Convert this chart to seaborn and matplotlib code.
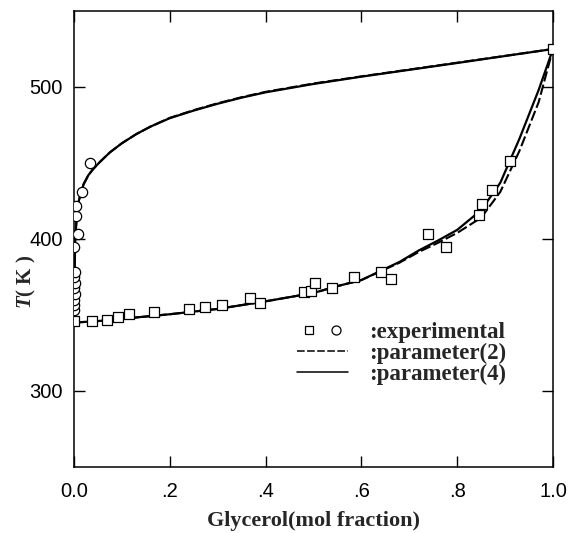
import matplotlib
matplotlib.use("Agg")
import matplotlib.pyplot as plt
import seaborn as sns
from matplotlib.lines import Line2D
from matplotlib.legend_handler import HandlerTuple
from matplotlib.font_manager import FontProperties

# ---------------- data ----------------
# vapour (upper) curve, both parameter sets nearly identical
vap_x = [0.0, 0.001, 0.003, 0.006, 0.01, 0.015, 0.02, 0.03, 0.04, 0.055,
         0.075, 0.1, 0.13, 0.16, 0.2, 0.25, 0.3, 0.35, 0.4, 0.5, 0.6, 0.7,
         0.8, 0.9, 1.0]
vap4_T = [345, 378, 402, 416, 425, 431, 436, 442, 446, 451,
          457, 463, 469, 474, 479.5, 484.5, 489, 493, 496.5, 502, 506.8, 511.3,
          515.8, 520.4, 525]
vap2_T = [345, 378, 402, 416, 425, 431, 436, 442, 446, 451,
          457, 463, 469, 474, 479.7, 484.8, 489.3, 493.3, 496.8, 502.3, 507.0, 511.5,
          516.0, 520.5, 525]

# liquid (lower) curve
liq_x = [0.0, 0.05, 0.1, 0.2, 0.3, 0.35, 0.4, 0.5, 0.55, 0.6, 0.68, 0.72,
         0.76, 0.8, 0.85, 0.89, 0.93, 0.97, 1.0]
liq4_T = [345, 346, 347.5, 350.5, 354, 356.5, 359, 364.5, 369, 373, 385, 392.5,
          399, 406, 419, 437, 466, 498, 525]
liq2_T = [345, 346, 347.5, 350.5, 354, 356.5, 359, 364.5, 369, 373, 384.5, 391.5,
          397.5, 404, 414, 431, 458, 490, 525]

# experimental points
sq_x = [0.0, 0.037, 0.068, 0.091, 0.115, 0.167, 0.24, 0.273, 0.308, 0.367,
        0.3875, 0.481, 0.494, 0.504, 0.539, 0.585, 0.641, 0.662, 0.74, 0.777,
        0.846, 0.852, 0.873, 0.91, 1.0]
sq_T = [346, 346, 347, 348.6, 350.7, 351.8, 353.8, 355.2, 356.4, 361.4,
        358, 365.4, 366, 371.3, 367.5, 375, 378.5, 374, 403.5, 395,
        416, 423, 432, 451, 525]

ci_x = [0.0, 0.0, 0.0, 0.002, 0.001, 0.003, 0.0, 0.002, 0.0, 0.008, 0.0035,
        0.005, 0.016, 0.033]
ci_T = [353, 356.5, 360, 364, 367.5, 371, 375, 378.5, 395, 403, 415,
        422, 431, 450]

xticks = [0.0, 0.2, 0.4, 0.6, 0.8, 1.0]
xtick_labels = ["0.0", ".2", ".4", ".6", ".8", "1.0"]
yticks = [300, 400, 500]
legend_labels = [":experimental", ":parameter(2)", ":parameter(4)"]

# ---------------- style ----------------
sns.set_style("ticks")
plt.rcParams.update({
    "font.family": ["Liberation Sans", "DejaVu Sans"],
    "mathtext.fontset": "custom",
    "mathtext.rm": "Liberation Serif:bold",
    "mathtext.bf": "Liberation Serif:bold",
    "mathtext.bfit": "Liberation Serif:italic:bold",
    "mathtext.it": "Liberation Serif:italic:bold",
    "axes.linewidth": 1.1,
    "axes.edgecolor": "black",
})

fig = plt.figure(figsize=(5.73, 5.33), dpi=100)
ax = fig.add_axes([74 / 573, 66 / 533, 479 / 573, 456 / 533])

dash_style = (0, (5, 1.6))
sns.lineplot(x=vap_x, y=vap2_T, ax=ax, sort=False, color="black", lw=1.5,
             linestyle=dash_style)
sns.lineplot(x=liq_x, y=liq2_T, ax=ax, sort=False, color="black", lw=1.5,
             linestyle=dash_style)
sns.lineplot(x=vap_x, y=vap4_T, ax=ax, sort=False, color="black", lw=1.6)
sns.lineplot(x=liq_x, y=liq4_T, ax=ax, sort=False, color="black", lw=1.6)

sns.scatterplot(x=ci_x, y=ci_T, ax=ax, marker="o", s=55, facecolor="white",
                edgecolor="black", linewidth=0.9, zorder=5)
sns.scatterplot(x=sq_x, y=sq_T, ax=ax, marker="s", s=48, facecolor="white",
                edgecolor="black", linewidth=0.9, zorder=5)

ax.set_xlim(0, 1.0)
ax.set_ylim(250, 550)
ax.set_xticks(xticks)
ax.set_xticklabels(xtick_labels)
ax.set_yticks(yticks)
ax.tick_params(direction="in", top=True, right=True, length=8, width=1,
               labelsize=14.5, colors="black")
ax.tick_params(axis="x", pad=11)
ax.tick_params(axis="y", pad=8)

ax.set_xlabel("Glycerol(mol fraction)", fontsize=16, fontweight="bold",
              family="Liberation Serif", labelpad=7)
ax.set_ylabel(r"$\mathbfit{T}$( K )", fontsize=15, fontweight="bold",
              family="Liberation Serif")
ax.yaxis.set_label_coords(-0.075, 0.406)

# legend
h_sq = Line2D([], [], marker="s", ls="none", mfc="white", mec="black", ms=6, mew=0.9)
h_ci = Line2D([], [], marker="o", ls="none", mfc="white", mec="black", ms=6.5, mew=0.9)
h_d = Line2D([], [], color="black", lw=1.1, ls=(0, (5, 1.6)))
h_s = Line2D([], [], color="black", lw=1.1)
ax.legend([(h_sq, h_ci), h_d, h_s], legend_labels,
          handler_map={tuple: HandlerTuple(ndivide=None, pad=0.15)},
          frameon=False, loc="upper left", bbox_to_anchor=(0.466, 0.318),
          borderaxespad=0, borderpad=0, handlelength=2.2, handletextpad=0.95,
          labelspacing=0.0,
          prop=FontProperties(family="Liberation Serif", weight="bold", size=16.5))

fig.savefig("out.png", dpi=100)
